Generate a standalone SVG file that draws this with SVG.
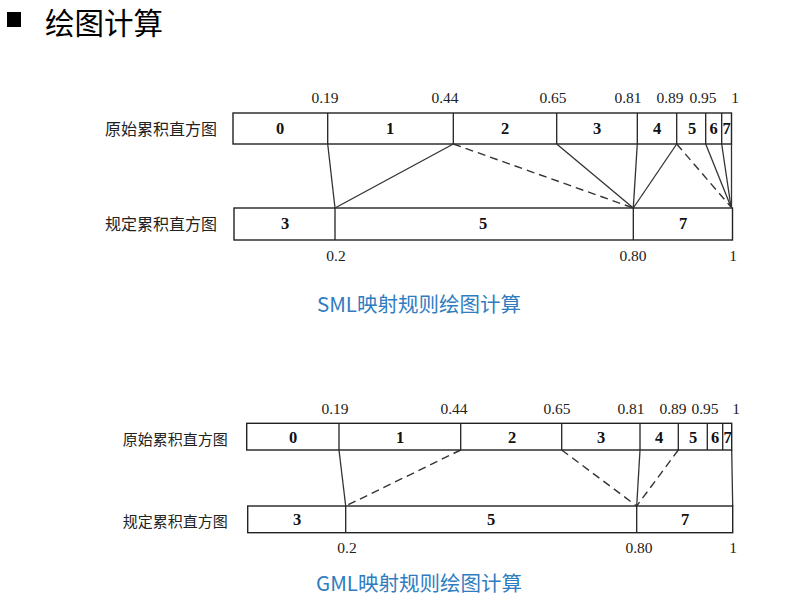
<svg xmlns="http://www.w3.org/2000/svg" width="793" height="608" viewBox="0 0 793 608">
<style>
.bar{fill:#fff;stroke:#222;stroke-width:1.4}
.div{stroke:#222;stroke-width:1.3}
.ln{stroke:#333;stroke-width:1.3;fill:none}
.dash{stroke:#333;stroke-width:1.4;fill:none;stroke-dasharray:8,5}
.num{font-family:"Liberation Serif",serif;font-size:15.5px;fill:#222;text-anchor:middle;dominant-baseline:central}
.bl{font-family:"Liberation Serif",serif;font-size:16.5px;font-weight:bold;fill:#111;text-anchor:middle;dominant-baseline:central}
.lab{font-family:"Noto Sans CJK SC",sans-serif;fill:#222;dominant-baseline:central}
.cap{font-family:"Noto Sans CJK SC",sans-serif;font-size:20.5px;fill:#2F7DC0;text-anchor:middle;dominant-baseline:central}
</style>
<rect width="793" height="608" fill="#fff"/>
<g id="title">
<rect x="7" y="12" width="14" height="15" fill="#000"/>
<text x="45" y="21" font-family="Noto Sans CJK SC,sans-serif" font-size="29.5" fill="#000" dominant-baseline="central">绘图计算</text>
</g>

<g id="sml">
<g id="sml-orig">
<text class="lab" x="105" y="128" font-size="16">原始累积直方图</text>
<rect class="bar" x="233" y="113" width="498.5" height="31"/>
<line class="div" x1="327.7" y1="113" x2="327.7" y2="144"/>
<line class="div" x1="453.3" y1="113" x2="453.3" y2="144"/>
<line class="div" x1="556.7" y1="113" x2="556.7" y2="144"/>
<line class="div" x1="637.3" y1="113" x2="637.3" y2="144"/>
<line class="div" x1="676.7" y1="113" x2="676.7" y2="144"/>
<line class="div" x1="705.7" y1="113" x2="705.7" y2="144"/>
<line class="div" x1="721.7" y1="113" x2="721.7" y2="144"/>
<text class="num" x="325" y="97">0.19</text>
<text class="num" x="445" y="97">0.44</text>
<text class="num" x="553" y="97">0.65</text>
<text class="num" x="628" y="97">0.81</text>
<text class="num" x="670" y="97">0.89</text>
<text class="num" x="703" y="97">0.95</text>
<text class="num" x="735" y="97">1</text>
<text class="bl" x="280" y="128">0</text>
<text class="bl" x="390" y="128">1</text>
<text class="bl" x="505" y="128">2</text>
<text class="bl" x="597" y="128">3</text>
<text class="bl" x="657" y="128">4</text>
<text class="bl" x="692" y="128">5</text>
<text class="bl" x="713.7" y="128">6</text>
<text class="bl" x="726.5" y="128">7</text>
</g>
<g id="sml-spec">
<text class="lab" x="105" y="223" font-size="16">规定累积直方图</text>
<rect class="bar" x="234" y="208" width="498.5" height="32"/>
<line class="div" x1="335" y1="208" x2="335" y2="240"/>
<line class="div" x1="633.3" y1="208" x2="633.3" y2="240"/>
<text class="bl" x="285" y="223">3</text>
<text class="bl" x="483" y="223">5</text>
<text class="bl" x="683" y="223">7</text>
<text class="num" x="336" y="255">0.2</text>
<text class="num" x="633" y="255">0.80</text>
<text class="num" x="733" y="255">1</text>
</g>
<text class="cap" x="419" y="303">SML映射规则绘图计算</text>
</g>

<g id="connectors">
<line class="ln" x1="327.7" y1="144" x2="335" y2="208"/>
<line class="ln" x1="453.3" y1="144" x2="335" y2="208"/>
<line class="dash" x1="453.3" y1="144" x2="633.3" y2="208"/>
<line class="ln" x1="556.7" y1="144" x2="633.3" y2="208"/>
<line class="ln" x1="637.3" y1="144" x2="633.3" y2="208"/>
<line class="ln" x1="676.7" y1="144" x2="633.3" y2="208"/>
<line class="dash" x1="676.7" y1="144" x2="731" y2="207"/>
<line class="ln" x1="705.7" y1="144" x2="731" y2="207"/>
<line class="ln" x1="721.7" y1="144" x2="731" y2="207"/>
<line class="ln" x1="731.5" y1="144" x2="731.5" y2="208"/>

<line class="ln" x1="339" y1="450" x2="345.7" y2="506"/>
<line class="dash" x1="460.7" y1="450" x2="345.7" y2="506"/>
<line class="dash" x1="561.7" y1="450" x2="636.7" y2="506"/>
<line class="ln" x1="640" y1="450" x2="636.7" y2="506"/>
<line class="dash" x1="678.3" y1="450" x2="636.7" y2="506"/>
<line class="ln" x1="731.7" y1="450" x2="732.7" y2="506"/>
</g>

<g id="gml">
<g id="gml-orig">
<text class="lab" x="122.7" y="438" font-size="15">原始累积直方图</text>
<rect class="bar" x="246.7" y="423.3" width="485" height="26.7"/>
<line class="div" x1="339" y1="423.3" x2="339" y2="450"/>
<line class="div" x1="460.7" y1="423.3" x2="460.7" y2="450"/>
<line class="div" x1="561.7" y1="423.3" x2="561.7" y2="450"/>
<line class="div" x1="640" y1="423.3" x2="640" y2="450"/>
<line class="div" x1="678.3" y1="423.3" x2="678.3" y2="450"/>
<line class="div" x1="707.3" y1="423.3" x2="707.3" y2="450"/>
<line class="div" x1="722.7" y1="423.3" x2="722.7" y2="450"/>
<text class="num" x="335" y="408">0.19</text>
<text class="num" x="454" y="408">0.44</text>
<text class="num" x="557" y="408">0.65</text>
<text class="num" x="631" y="408">0.81</text>
<text class="num" x="673" y="408">0.89</text>
<text class="num" x="705" y="408">0.95</text>
<text class="num" x="736" y="408">1</text>
<text class="bl" x="293" y="437">0</text>
<text class="bl" x="400" y="437">1</text>
<text class="bl" x="512" y="437">2</text>
<text class="bl" x="601" y="437">3</text>
<text class="bl" x="659" y="437">4</text>
<text class="bl" x="693" y="437">5</text>
<text class="bl" x="715" y="437">6</text>
<text class="bl" x="727.5" y="437">7</text>
</g>
<g id="gml-spec">
<text class="lab" x="122.7" y="520" font-size="15">规定累积直方图</text>
<rect class="bar" x="247.7" y="506" width="485" height="26.7"/>
<line class="div" x1="345.7" y1="506" x2="345.7" y2="532.7"/>
<line class="div" x1="636.7" y1="506" x2="636.7" y2="532.7"/>
<text class="bl" x="297" y="519">3</text>
<text class="bl" x="491" y="519">5</text>
<text class="bl" x="685" y="519">7</text>
<text class="num" x="347" y="547">0.2</text>
<text class="num" x="639" y="547">0.80</text>
<text class="num" x="733" y="547">1</text>
</g>
<text class="cap" x="419" y="582">GML映射规则绘图计算</text>
</g>
</svg>
